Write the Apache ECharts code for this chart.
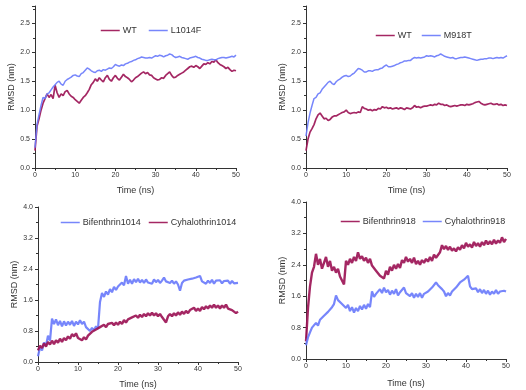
<!DOCTYPE html>
<html><head><meta charset="utf-8">
<script src="https://cdn.jsdelivr.net/npm/echarts@6/dist/echarts.min.js"></script>
<style>html,body{margin:0;padding:0;background:#fff}#c{width:526px;height:390px}</style>
</head><body><div id="c"></div>
<script>
// time step of the sampled trajectories (ns)
var timeStep = 0.5;
var xTicks = [0, 10, 20, 30, 40, 50];

var wtA = [0.30,0.72,0.85,1.00,1.12,1.20,1.28,1.22,1.27,1.20,1.43,1.30,1.22,1.28,1.25,1.32,1.34,1.28,1.24,1.22,1.18,1.15,1.12,1.17,1.22,1.25,1.30,1.36,1.44,1.48,1.54,1.50,1.56,1.52,1.49,1.56,1.60,1.53,1.50,1.56,1.60,1.55,1.52,1.57,1.62,1.58,1.56,1.53,1.49,1.52,1.56,1.58,1.61,1.64,1.66,1.63,1.65,1.61,1.60,1.56,1.54,1.52,1.53,1.56,1.55,1.60,1.63,1.66,1.60,1.56,1.57,1.60,1.62,1.64,1.66,1.69,1.72,1.75,1.76,1.74,1.77,1.75,1.72,1.76,1.80,1.79,1.82,1.80,1.84,1.83,1.87,1.82,1.79,1.77,1.75,1.72,1.74,1.70,1.67,1.69,1.68];
var l1014f = [0.35,0.75,0.92,1.08,1.22,1.20,1.28,1.30,1.35,1.40,1.44,1.48,1.50,1.45,1.43,1.50,1.53,1.55,1.57,1.60,1.61,1.59,1.58,1.63,1.65,1.69,1.73,1.71,1.68,1.66,1.65,1.68,1.69,1.67,1.70,1.69,1.71,1.73,1.72,1.75,1.79,1.77,1.76,1.78,1.77,1.80,1.81,1.83,1.84,1.86,1.87,1.89,1.90,1.92,1.91,1.90,1.90,1.91,1.90,1.92,1.94,1.93,1.95,1.94,1.92,1.94,1.95,1.97,1.96,1.93,1.91,1.92,1.93,1.91,1.90,1.89,1.88,1.90,1.91,1.92,1.93,1.91,1.90,1.88,1.87,1.86,1.86,1.87,1.88,1.87,1.87,1.89,1.90,1.91,1.91,1.90,1.91,1.92,1.93,1.92,1.95];
var wtB = [0.30,0.50,0.62,0.68,0.75,0.85,0.92,0.95,0.90,0.85,0.86,0.82,0.84,0.88,0.90,0.90,0.92,0.94,0.96,0.97,1.00,0.96,0.94,0.95,0.96,0.95,0.97,0.96,1.06,1.03,1.02,1.00,1.01,0.99,1.01,1.00,1.03,1.02,1.06,1.04,1.05,1.03,1.04,1.02,1.03,1.04,1.02,1.04,1.03,1.01,1.04,1.03,1.02,1.04,1.08,1.05,1.06,1.04,1.06,1.07,1.07,1.08,1.09,1.08,1.10,1.09,1.12,1.10,1.10,1.08,1.09,1.07,1.06,1.07,1.08,1.07,1.08,1.09,1.09,1.08,1.10,1.09,1.10,1.11,1.13,1.14,1.15,1.12,1.10,1.09,1.10,1.11,1.12,1.10,1.10,1.11,1.09,1.10,1.08,1.09,1.08];
var m918t = [0.55,0.78,0.95,1.08,1.20,1.22,1.28,1.30,1.36,1.40,1.44,1.48,1.50,1.46,1.44,1.49,1.52,1.54,1.57,1.59,1.60,1.58,1.59,1.62,1.64,1.68,1.72,1.71,1.69,1.66,1.66,1.68,1.68,1.67,1.69,1.70,1.70,1.72,1.73,1.76,1.78,1.75,1.75,1.76,1.77,1.79,1.80,1.82,1.83,1.85,1.85,1.86,1.86,1.89,1.91,1.90,1.91,1.90,1.91,1.92,1.94,1.93,1.94,1.93,1.92,1.94,1.95,1.97,1.95,1.93,1.92,1.91,1.90,1.91,1.89,1.89,1.90,1.91,1.91,1.92,1.91,1.90,1.89,1.88,1.87,1.86,1.87,1.88,1.88,1.89,1.89,1.90,1.90,1.89,1.90,1.91,1.90,1.91,1.90,1.92,1.94];
var bif1014 = [0.15,0.38,0.30,0.50,0.42,0.68,0.55,1.12,0.98,1.10,0.95,1.06,0.92,1.05,0.94,1.04,0.96,1.06,0.93,1.04,0.97,1.08,0.98,1.04,0.90,0.95,0.80,0.88,0.82,0.92,0.86,1.55,1.78,1.68,1.82,1.74,1.88,1.80,1.94,1.86,1.95,1.90,2.05,1.98,2.22,2.02,2.12,2.02,2.14,2.06,2.15,2.05,2.12,2.04,2.13,2.05,2.10,2.02,2.13,2.06,2.12,2.04,2.10,2.18,2.08,2.12,2.04,2.10,2.02,2.08,2.00,1.84,2.04,2.10,2.05,2.13,2.08,2.15,2.10,2.18,2.14,2.22,2.08,2.12,2.02,2.10,2.04,2.12,2.02,2.10,2.05,2.11,2.03,2.09,2.04,2.10,2.02,2.09,2.03,2.08,2.04];
var cyh1014 = [0.30,0.42,0.36,0.48,0.40,0.52,0.45,0.55,0.46,0.56,0.50,0.60,0.52,0.62,0.56,0.66,0.60,0.72,0.66,0.74,0.62,0.66,0.56,0.64,0.58,0.68,0.64,0.78,0.74,0.84,0.80,0.90,0.86,0.96,0.90,0.98,0.93,1.01,0.95,1.02,0.96,1.04,0.98,1.08,1.02,1.10,1.06,1.15,1.10,1.20,1.14,1.22,1.16,1.24,1.18,1.26,1.20,1.27,1.20,1.26,1.18,1.24,1.16,1.20,1.02,1.18,1.24,1.18,1.26,1.20,1.28,1.22,1.30,1.24,1.32,1.26,1.34,1.30,1.40,1.32,1.38,1.32,1.42,1.36,1.44,1.38,1.46,1.40,1.48,1.40,1.46,1.38,1.46,1.40,1.48,1.38,1.42,1.34,1.36,1.26,1.30];
var bif918 = [0.45,1.30,1.85,2.20,2.35,2.68,2.40,2.55,2.30,2.45,2.60,2.35,2.50,2.25,2.35,2.20,2.30,2.10,2.15,1.90,2.50,2.40,2.55,2.45,2.60,2.50,2.72,2.55,2.62,2.50,2.58,2.45,2.55,2.38,2.42,2.25,2.30,2.12,2.15,2.05,2.25,2.15,2.35,2.25,2.40,2.30,2.42,2.32,2.52,2.45,2.60,2.48,2.55,2.45,2.58,2.42,2.50,2.40,2.52,2.45,2.55,2.48,2.60,2.50,2.66,2.58,2.62,2.72,2.90,2.80,2.88,2.78,2.86,2.76,2.82,2.74,2.85,2.78,2.90,2.82,2.96,2.86,2.92,2.84,2.98,2.88,2.95,2.86,2.98,2.90,3.02,2.92,3.00,2.92,3.04,2.94,3.02,2.96,3.10,2.98,3.06];
var cyh918 = [0.35,0.55,0.68,0.80,0.75,0.92,0.85,1.00,0.95,1.10,1.05,1.20,1.15,1.32,1.40,1.62,1.50,1.55,1.40,1.45,1.30,1.38,1.22,1.32,1.18,1.30,1.22,1.35,1.26,1.38,1.28,1.40,1.32,1.72,1.58,1.66,1.62,1.78,1.68,1.82,1.70,1.76,1.64,1.74,1.66,1.78,1.62,1.70,1.66,1.82,1.68,1.72,1.60,1.68,1.56,1.66,1.58,1.68,1.56,1.66,1.62,1.72,1.70,1.82,1.78,1.95,1.88,1.92,1.78,1.72,1.60,1.68,1.62,1.72,1.70,1.82,1.85,1.95,1.92,2.02,1.98,2.12,1.85,1.78,1.74,1.80,1.70,1.78,1.68,1.76,1.66,1.74,1.64,1.72,1.66,1.76,1.66,1.72,1.68,1.74,1.72];

var MAG = '#9c1556', BLU = '#6b7cfb';
var FONT = 'Liberation Sans, Arial, sans-serif';

function pairs(arr){ return arr.map(function(v,i){ return [i*timeStep, v]; }); }

var panels = [
  {grid:{left:35,top:6,width:201,height:162}, ymax:2.8, yint:0.5, yGap:18, xGap:18,
   s:[['WT',wtA,MAG,1.7],['L1014F',l1014f,BLU,1.5]], leg:[[95,21],[143,21]]},
  {grid:{left:306,top:6,width:201,height:162}, ymax:2.8, yint:0.5, yGap:19, xGap:18,
   s:[['WT ',wtB,MAG,1.7],['M918T',m918t,BLU,1.5]], leg:[[370,26],[416,26]]},
  {grid:{left:38,top:207,width:200,height:156}, ymax:4.0, yint:0.8, yGap:19, xGap:18,
   s:[['Bifenthrin1014',bif1014,BLU,2.2],['Cyhalothrin1014',cyh1014,MAG,2.4]], leg:[[55,213],[143,213]]},
  {grid:{left:306,top:202,width:200,height:157}, ymax:4.0, yint:0.8, yGap:17, xGap:20,
   s:[['Bifenthrin918',bif918,MAG,2.4],['Cyhalothrin918',cyh918,BLU,2.2]], leg:[[335,212],[417,212]]}
];

var option = {animation:false, backgroundColor:'#fff', textStyle:{fontFamily:FONT},
  grid:[], xAxis:[], yAxis:[], series:[], legend:[]};

panels.forEach(function(p, gi){
  option.grid.push(p.grid);
  option.xAxis.push({gridIndex:gi, type:'value', min:xTicks[0], max:xTicks[xTicks.length-1], interval:xTicks[1]-xTicks[0],
    name:'Time (ns)', nameLocation:'middle', nameGap:p.xGap, nameTextStyle:{fontSize:9, color:'#333', fontFamily:FONT},
    axisLine:{show:true, lineStyle:{color:'#333', width:1}}, axisTick:{show:true, length:3, lineStyle:{color:'#333'}},
    minorTick:{show:true, splitNumber:2, length:2, lineStyle:{color:'#333'}},
    axisLabel:{fontSize:7, color:'#333', margin:4, fontFamily:FONT}, splitLine:{show:false}});
  option.yAxis.push({gridIndex:gi, type:'value', min:0, max:p.ymax, interval:p.yint,
    name:'RMSD (nm)', nameLocation:'middle', nameGap:p.yGap, nameTextStyle:{fontSize:9, color:'#333', fontFamily:FONT},
    axisLine:{show:true, lineStyle:{color:'#333', width:1}}, axisTick:{show:true, length:3, lineStyle:{color:'#333'}},
    minorTick:{show:true, splitNumber:2, length:2, lineStyle:{color:'#333'}},
    axisLabel:{fontSize:7, color:'#333', margin:5, showMaxLabel: p.ymax === 4.0, fontFamily:FONT,
      formatter:function(v){ return v.toFixed(1); }}, splitLine:{show:false}});
  p.s.forEach(function(s, si){
    option.series.push({type:'line', name:s[0], xAxisIndex:gi, yAxisIndex:gi, data:pairs(s[1]),
      symbol:'none', lineStyle:{color:s[2], width:s[3], opacity:0.92}, itemStyle:{color:s[2]}});
    option.legend.push({data:[s[0]], left:p.leg[si][0], top:p.leg[si][1], itemWidth:19, itemHeight:10, itemGap:3,
      itemStyle:{opacity:0}, lineStyle:{width:1.5, color:s[2]},
      textStyle:{fontSize:9, color:'#333', fontFamily:FONT, padding:[0,0,0,-2]}, selectedMode:false});
  });
});

var chart = echarts.init(document.getElementById('c'), null, {renderer:'canvas'});
chart.setOption(option);
</script></body></html>
